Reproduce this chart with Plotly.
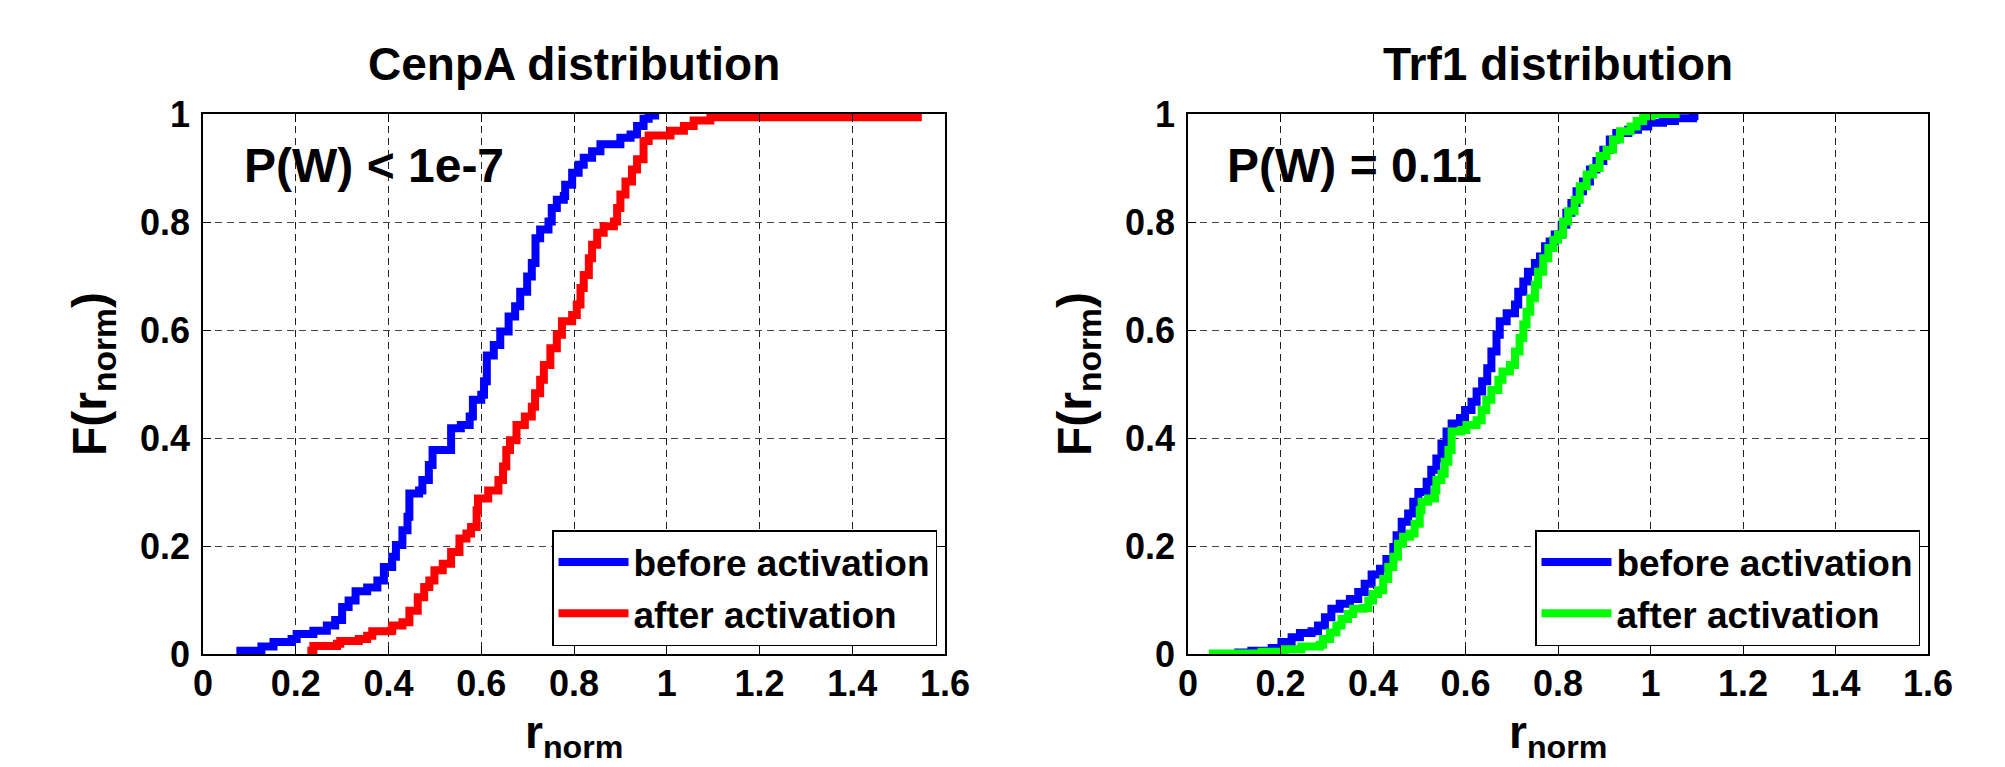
import plotly.graph_objects as go

# ---------------- data ----------------
cenpa_before_r = [0.072,0.126,0.152,0.191,0.202,0.238,0.267,0.285,0.300,0.314,0.329,0.354,0.376,0.390,0.408,0.416,0.430,0.441,0.445,0.466,0.473,0.487,0.495,0.524,0.535,0.556,0.575,0.582,0.600,0.606,0.612,0.627,0.641,0.659,0.673,0.684,0.699,0.709,0.717,0.727,0.745,0.752,0.763,0.778,0.781,0.796,0.810,0.821,0.839,0.857,0.886,0.900,0.922,0.936,0.950,0.961,0.975]
cenpa_before_F = [0.006,0.014,0.022,0.028,0.037,0.043,0.053,0.063,0.087,0.099,0.116,0.123,0.136,0.161,0.180,0.202,0.229,0.254,0.297,0.303,0.322,0.350,0.378,0.378,0.418,0.424,0.440,0.471,0.480,0.505,0.553,0.572,0.597,0.625,0.644,0.671,0.699,0.724,0.770,0.786,0.801,0.826,0.841,0.848,0.869,0.891,0.906,0.919,0.931,0.944,0.944,0.956,0.962,0.978,0.991,0.997,1.0]

cenpa_after_r = [0.225,0.238,0.289,0.296,0.336,0.354,0.365,0.405,0.408,0.430,0.445,0.463,0.477,0.488,0.499,0.517,0.535,0.553,0.568,0.578,0.590,0.593,0.615,0.637,0.647,0.654,0.662,0.676,0.694,0.709,0.716,0.727,0.735,0.749,0.763,0.774,0.796,0.806,0.814,0.821,0.832,0.839,0.850,0.864,0.886,0.893,0.900,0.911,0.925,0.936,0.950,0.961,1.000,1.008,1.037,1.058,1.094,1.550]
cenpa_after_F = [0.006,0.015,0.019,0.024,0.028,0.034,0.042,0.043,0.053,0.059,0.080,0.105,0.124,0.136,0.155,0.167,0.189,0.214,0.223,0.235,0.266,0.288,0.303,0.322,0.347,0.378,0.396,0.424,0.440,0.458,0.483,0.508,0.535,0.566,0.591,0.616,0.628,0.647,0.678,0.702,0.733,0.758,0.780,0.792,0.801,0.826,0.851,0.875,0.897,0.916,0.950,0.960,0.960,0.969,0.978,0.988,0.994,0.994]

trf1_before_r = [0.100,0.137,0.181,0.202,0.224,0.242,0.267,0.281,0.296,0.310,0.328,0.350,0.368,0.382,0.397,0.415,0.429,0.444,0.451,0.462,0.476,0.487,0.498,0.516,0.526,0.537,0.548,0.559,0.570,0.588,0.599,0.613,0.624,0.636,0.647,0.656,0.667,0.674,0.689,0.707,0.714,0.725,0.735,0.750,0.761,0.772,0.782,0.793,0.808,0.818,0.829,0.840,0.854,0.869,0.883,0.898,0.912,0.926,0.952,0.973,0.995,1.027,1.053,1.092,1.095]
trf1_before_F = [0.003,0.006,0.011,0.022,0.031,0.039,0.042,0.053,0.068,0.084,0.093,0.102,0.115,0.130,0.147,0.158,0.176,0.198,0.220,0.245,0.260,0.282,0.300,0.319,0.341,0.362,0.390,0.412,0.427,0.437,0.452,0.467,0.486,0.505,0.529,0.560,0.591,0.616,0.631,0.647,0.671,0.690,0.708,0.724,0.736,0.755,0.764,0.777,0.795,0.817,0.835,0.857,0.875,0.897,0.913,0.934,0.953,0.965,0.971,0.977,0.984,0.987,0.992,0.996,1.0]

trf1_after_r = [0.045,0.152,0.159,0.209,0.245,0.285,0.292,0.307,0.321,0.332,0.346,0.357,0.379,0.390,0.400,0.411,0.422,0.433,0.444,0.454,0.465,0.480,0.490,0.501,0.505,0.519,0.534,0.537,0.548,0.555,0.563,0.570,0.591,0.602,0.624,0.635,0.645,0.656,0.671,0.680,0.696,0.707,0.717,0.725,0.732,0.740,0.750,0.757,0.768,0.779,0.790,0.800,0.811,0.822,0.836,0.847,0.862,0.876,0.890,0.905,0.919,0.934,0.957,0.970,0.984,1.002,1.063]
trf1_after_F = [0.001,0.001,0.004,0.009,0.014,0.017,0.028,0.040,0.053,0.065,0.074,0.084,0.085,0.099,0.111,0.118,0.139,0.161,0.180,0.204,0.217,0.223,0.241,0.266,0.282,0.288,0.303,0.322,0.334,0.356,0.378,0.412,0.415,0.424,0.433,0.452,0.471,0.489,0.508,0.523,0.535,0.560,0.585,0.610,0.634,0.659,0.684,0.708,0.733,0.752,0.767,0.777,0.801,0.820,0.841,0.866,0.888,0.900,0.922,0.934,0.953,0.968,0.977,0.987,0.996,1.0,1.0]

titles = ["CenpA distribution", "Trf1 distribution"]
pvalues = ["P(W) < 1e-7", "P(W) = 0.11"]
series_names = ["before activation", "after activation"]
x_label = "r<sub>norm</sub>"
y_label = "F(r<sub>norm</sub>)"

# ---------------- styling ----------------
FONT = "Liberation Sans, Arial, Helvetica, sans-serif"
BLUE, RED, GREEN = "#0000FF", "#FF0000", "#00FF00"
LW = 8

W, H = 2005, 767
ax_left = [(203, 945), (1188, 1928)]
ax_top, ax_bot = 114, 654

def px_x(p):
    return p / W

def px_y(p):
    return (H - p) / H

fig = go.Figure()

def curve(xs, ys, name, color, xa, ya, leg):
    return go.Scatter(x=xs, y=ys, mode="lines", name=name, line=dict(color=color, width=LW, shape="hv"),
                      xaxis=xa, yaxis=ya, legend=leg)

fig.add_trace(curve(cenpa_before_r, cenpa_before_F, series_names[0], BLUE, "x", "y", "legend"))
fig.add_trace(curve(cenpa_after_r, cenpa_after_F, series_names[1], RED, "x", "y", "legend"))
fig.add_trace(curve(trf1_before_r, trf1_before_F, series_names[0], BLUE, "x2", "y2", "legend2"))
fig.add_trace(curve(trf1_after_r, trf1_after_F, series_names[1], GREEN, "x2", "y2", "legend2"))

tickfont = dict(family=FONT, size=36, color="black", weight="bold")

def xaxis(i):
    return dict(domain=[px_x(ax_left[i][0]), px_x(ax_left[i][1])], range=[0, 1.6], dtick=0.2, tick0=0,
                showline=True, linecolor="black", linewidth=1.5, mirror="ticks",
                ticks="inside", ticklen=8, tickwidth=1.2, tickcolor="black",
                showgrid=True, gridcolor="#222222", gridwidth=1, griddash="7px,5px",
                zeroline=False, tickfont=tickfont, ticklabelstandoff=-3, automargin=False,
                anchor="y" if i == 0 else "y2", fixedrange=True)

def yaxis(i):
    return dict(domain=[px_y(ax_bot), px_y(ax_top)], range=[0, 1], dtick=0.2, tick0=0,
                showline=True, linecolor="black", linewidth=1.5, mirror="ticks",
                ticks="inside", ticklen=8, tickwidth=1.2, tickcolor="black",
                showgrid=True, gridcolor="#444444", gridwidth=1, griddash="7px,5px",
                zeroline=False, tickfont=tickfont, ticklabelstandoff=4, automargin=False,
                anchor="x" if i == 0 else "x2", fixedrange=True)

annotations = []
for i in range(2):
    cx = (ax_left[i][0] + ax_left[i][1]) / 2
    annotations.append(dict(text=titles[i], x=px_x(cx), y=px_y(64), xref="paper", yref="paper",
                            xanchor="center", yanchor="middle", showarrow=False,
                            font=dict(family=FONT, size=46, color="black", weight="bold")))
    annotations.append(dict(text=pvalues[i], x=0.085 if i == 0 else 0.08, y=0.905,
                            xref="x" if i == 0 else "x2", yref="y" if i == 0 else "y2",
                            xanchor="left", yanchor="middle", showarrow=False,
                            font=dict(family=FONT, size=48, color="black", weight="bold")))
    annotations.append(dict(text=x_label, x=px_x(cx), y=px_y(704), xref="paper", yref="paper",
                            xanchor="center", yanchor="top", showarrow=False,
                            font=dict(family=FONT, size=46, color="black", weight="bold")))
    annotations.append(dict(text=y_label, x=px_x(ax_left[i][0] - 78), y=px_y((ax_top + ax_bot) / 2 - 10),
                            xref="paper", yref="paper", textangle=-90,
                            xanchor="right", yanchor="middle", showarrow=False,
                            font=dict(family=FONT, size=48, color="black", weight="bold")))

legfont = dict(family=FONT, size=37, color="black", weight="bold")

def legend(i):
    right = [937, 1920][i]
    return dict(x=px_x(right), xanchor="right", y=px_y(646), yanchor="bottom",
                bgcolor="white", bordercolor="black", borderwidth=1.5,
                font=legfont, itemwidth=70, tracegroupgap=0)

fig.update_layout(
    template="none",
    width=W, height=H, autosize=False,
    margin=dict(l=0, r=0, t=0, b=0, pad=0, autoexpand=False),
    paper_bgcolor="white", plot_bgcolor="white",
    showlegend=True, hovermode=False,
    xaxis=xaxis(0), yaxis=yaxis(0), xaxis2=xaxis(1), yaxis2=yaxis(1),
    legend=legend(0), legend2=legend(1),
    annotations=annotations,
)

fig.write_html("out.html", config={"displayModeBar": False, "staticPlot": False},
               post_script="document.body.style.margin='0';document.body.style.overflow='hidden';")
